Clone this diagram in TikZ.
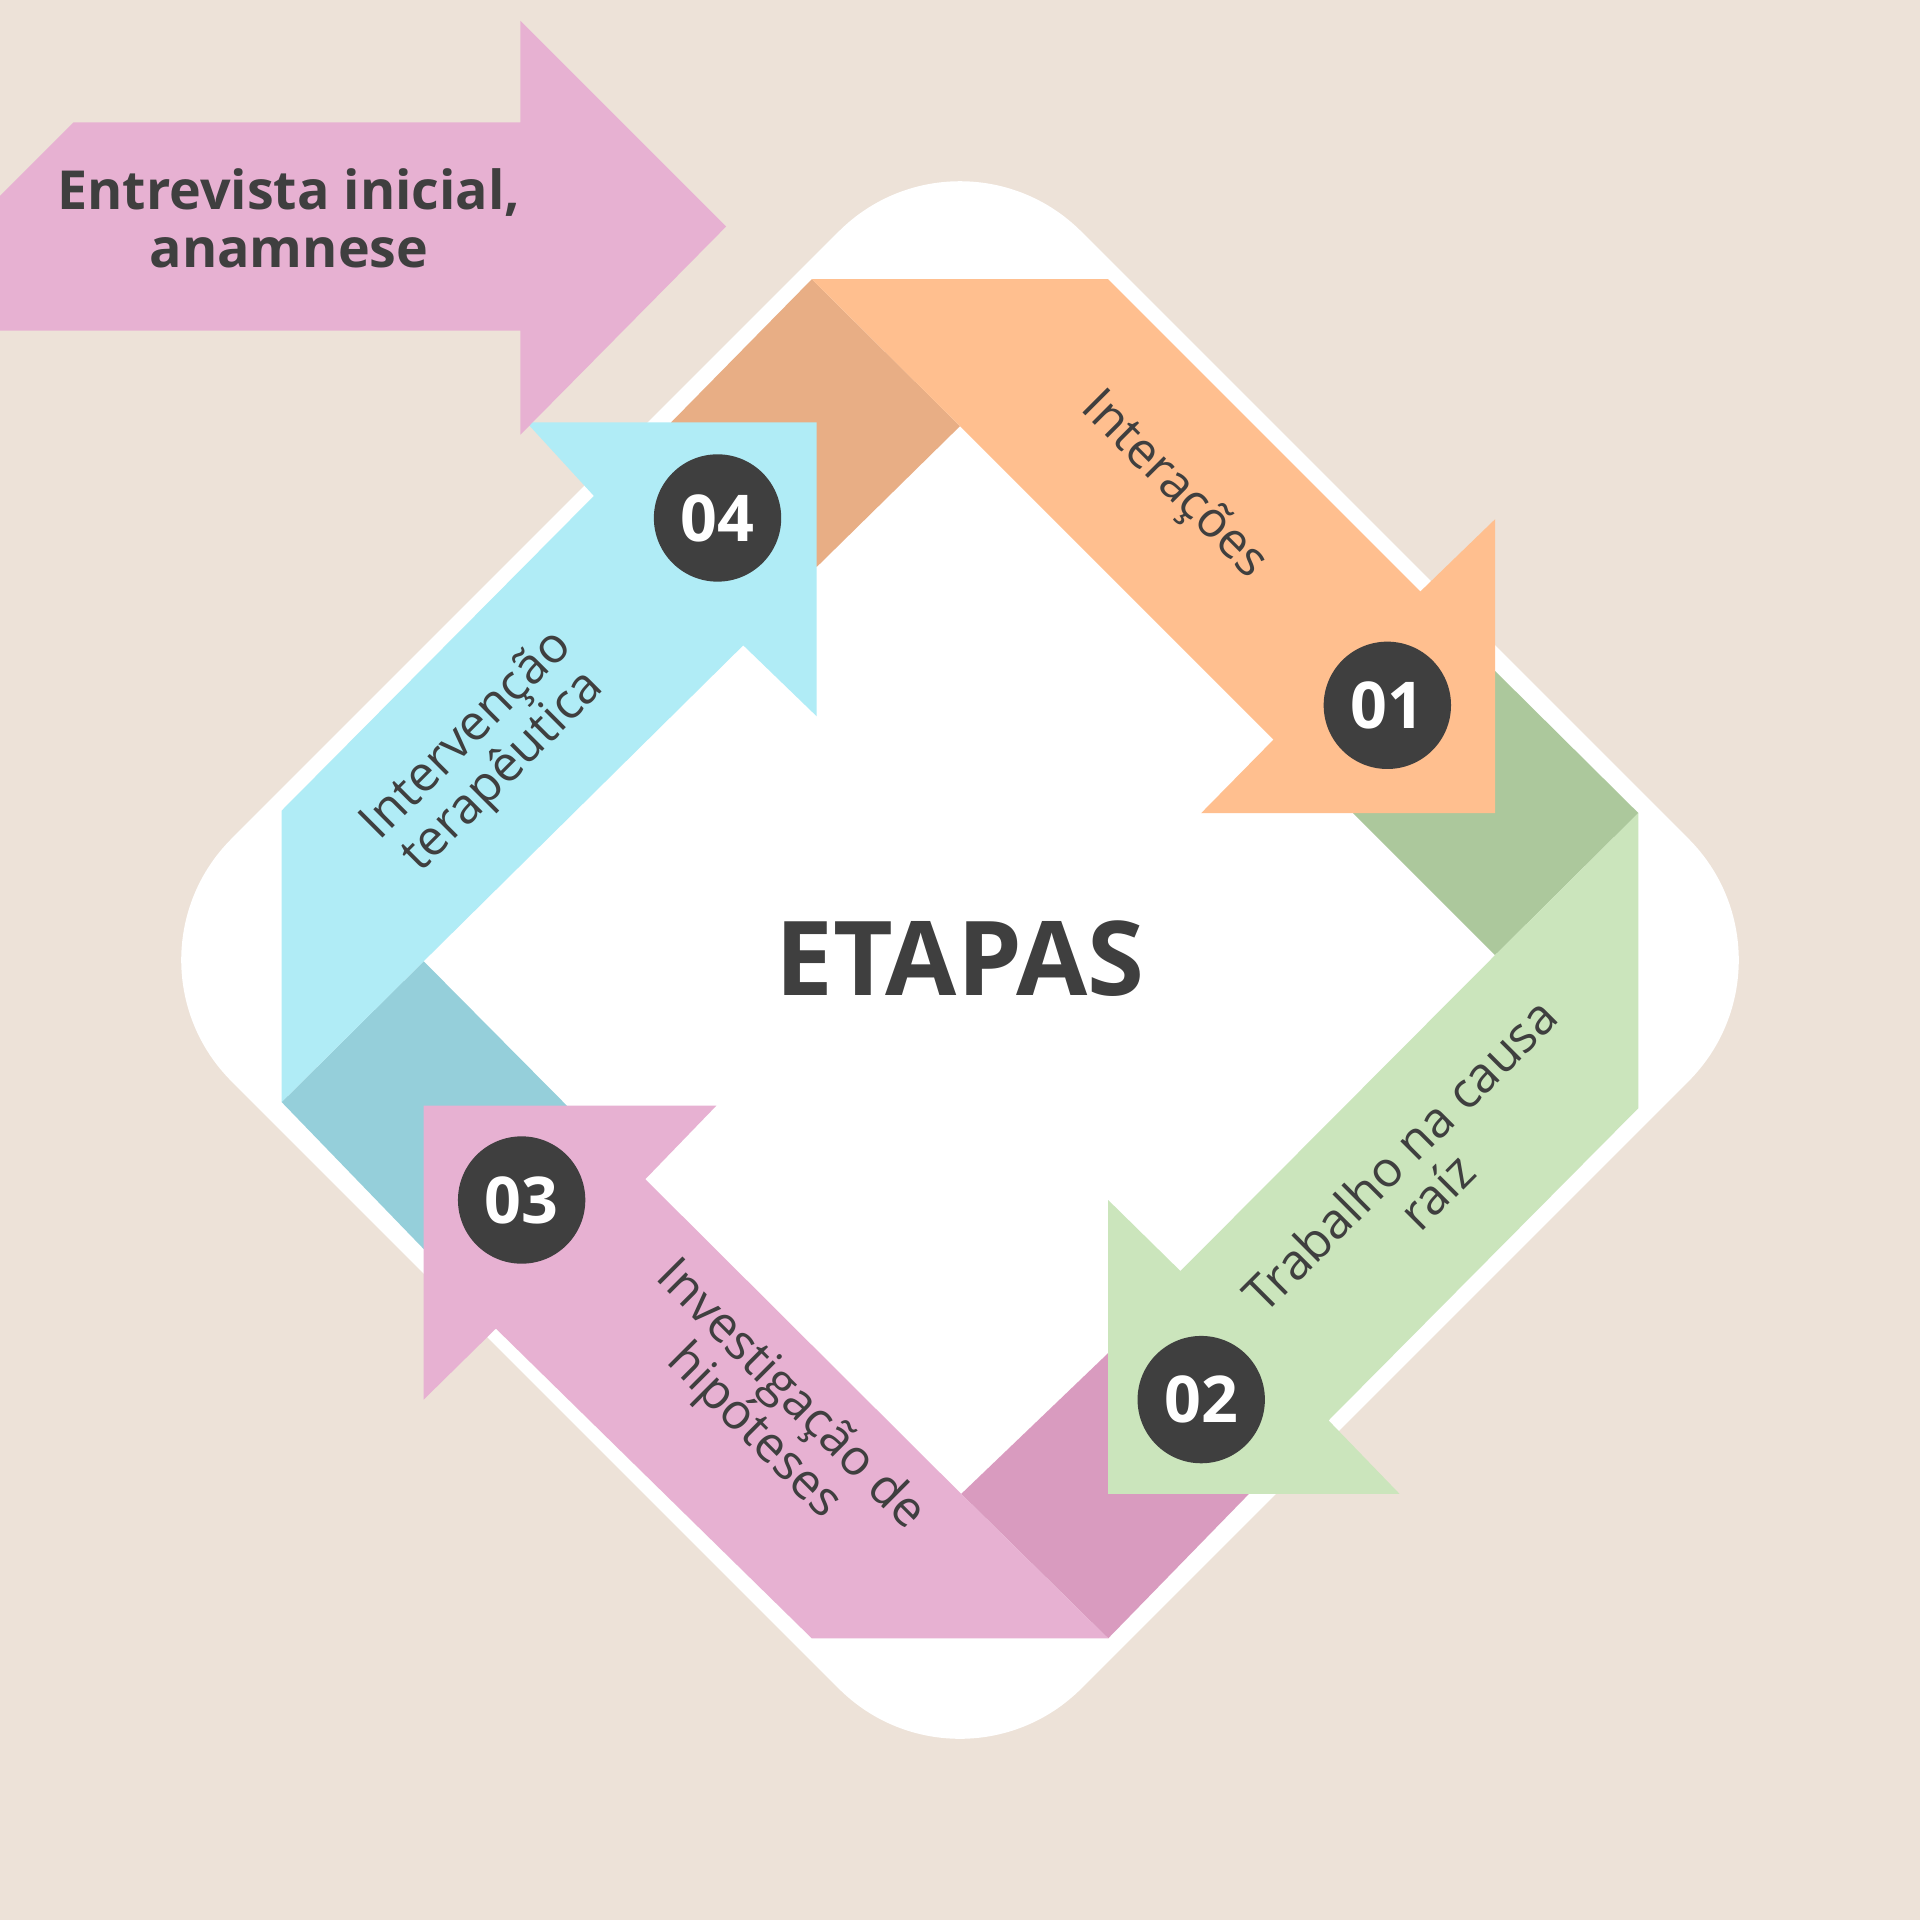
\documentclass[tikz,border=0pt]{standalone}
\usepackage{fontspec}
\setmainfont{Open Sans}
\definecolor{bg}{HTML}{EDE2D8}
\definecolor{orL}{HTML}{FFBF8F}\definecolor{orD}{HTML}{E8AE85}
\definecolor{grL}{HTML}{CBE5BC}\definecolor{grD}{HTML}{ACC89C}
\definecolor{piL}{HTML}{E7B1D2}\definecolor{piD}{HTML}{D99BBF}
\definecolor{blL}{HTML}{B0ECF6}\definecolor{blD}{HTML}{95CFDA}
\definecolor{ink}{HTML}{3F3F3F}
\begin{document}
\begin{tikzpicture}[x=0.1mm,y=-0.1mm,
  num/.style={circle,fill=ink,minimum size=10.4mm,inner sep=0pt,text=white,font=\fontsize{15}{15}\selectfont\bfseries},
  lab/.style={text=ink,align=center,font=\fontsize{11.5}{12}\selectfont}]
\fill[bg] (0,0) rectangle (1568,1568);
\useasboundingbox (0,0) rectangle (1568,1568);
\fill[white,rounded corners=14mm] (784,90) -- (1478,784) -- (784,1478) -- (90,784) -- cycle;
% folds
\fill[orD] (548,345) -- (663,228) -- (784,348) -- (667,463) -- cycle;
\fill[grD] (1221,548) -- (1338,664) -- (1221,780) -- (1105,664) -- cycle;
\fill[piD] (905,1338) -- (1020,1220) -- (905,1105) -- (785,1220) -- cycle;
\fill[blD] (230,900) -- (346,785) -- (463,903) -- (346,1020) -- cycle;
% arrows
\fill[orL] (663,228) -- (905,228) -- (1160,483) -- (1221,424) -- (1221,664) -- (981,664) -- (1040,604) -- (784,348) -- cycle;
\fill[grL] (1338,664) -- (1338,905) -- (1085,1160) -- (1143,1220) -- (905,1220) -- (905,980) -- (964,1038) -- (1221,780) -- cycle;
\fill[piL] (905,1338) -- (663,1338) -- (405,1085) -- (346,1143) -- (346,903) -- (585,903) -- (527,963) -- (785,1220) -- cycle;
\fill[blL] (230,900) -- (230,662) -- (485,405) -- (430,345) -- (667,345) -- (667,585) -- (607,527) -- (346,785) -- cycle;
% top arrow
\fill[piL] (60,100) -- (425,100) -- (425,17) -- (593,185) -- (425,355) -- (425,270) -- (0,270) -- (0,160) -- cycle;
\node[text=ink,align=center,font=\fontsize{12.5}{13.5}\selectfont\bfseries] (top) at (236,178) {Entrevista inicial,\\anamnese};
% labels
\node[lab,rotate=-45] (l1) at (958,397) {Interações};
\node[lab,rotate=45] (l2) at (1158,958) {Trabalho na causa\\raíz};
\node[lab,rotate=-45] (l3) at (630,1155) {Investigação de\\hipóteses};
\node[lab,rotate=45] (l4) at (397,616) {Intervenção\\terapêutica};
\node[num] (n1) at (1133,576) {01};
\node[num] (n2) at (981,1143) {02};
\node[num] (n3) at (426,980) {03};
\node[num] (n4) at (586,423) {04};
\node[text=ink,font=\fontsize{24}{24}\selectfont\bfseries] (et) at (784,783) {ETAPAS};
\end{tikzpicture}
\end{document}
